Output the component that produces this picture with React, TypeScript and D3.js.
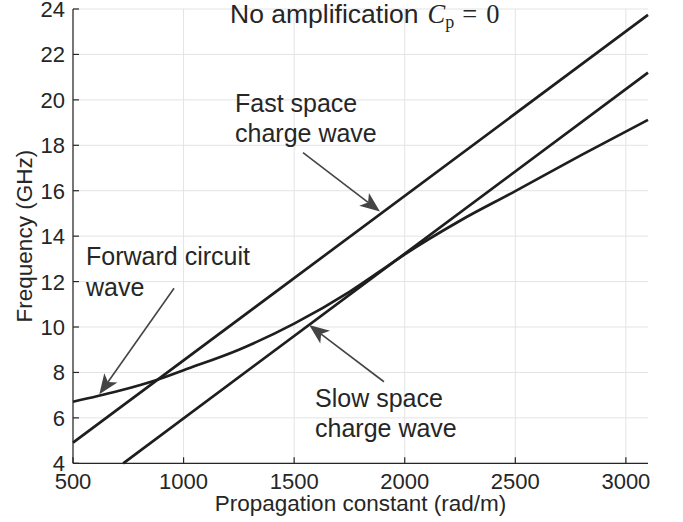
import * as d3 from "d3";

type Pt = [number, number];

// propagation constant (rad/m) vs frequency (GHz)
const betaTicks = [500, 1000, 1500, 2000, 2500, 3000];
const freqTicks = [4, 6, 8, 10, 12, 14, 16, 18, 20, 22, 24];

const fastWave: Pt[] = [
  [500, 4.91],
  [3100, 23.74],
];
const slowWave: Pt[] = [
  [727, 4],
  [3100, 21.2],
];
const circuitWave: Pt[] = [
  [500, 6.71],
  [700, 7.17],
  [878, 7.67],
  [1000, 8.1],
  [1250, 9.0],
  [1500, 10.15],
  [1750, 11.55],
  [1947, 12.85],
  [2000, 13.2],
  [2250, 14.68],
  [2500, 15.98],
  [2800, 17.58],
  [3100, 19.12],
];

const arrows: { from: Pt; to: Pt }[] = [
  { from: [1540, 17.68], to: [1888, 15.08] },
  { from: [957, 11.71], to: [619, 7.04] },
  { from: [1906, 7.59], to: [1568, 10.09] },
];

const W = 683;
const H = 522;
const ink = "#262626";
const font = "'Liberation Sans', Arial, Helvetica, sans-serif";
const serif = "'Liberation Serif', 'DejaVu Serif', serif";

const x = d3.scaleLinear().domain([500, 3100]).range([73, 648]);
const y = d3.scaleLinear().domain([4, 24]).range([463.3, 9]);

const line = d3
  .line<Pt>()
  .x((d) => x(d[0]))
  .y((d) => y(d[1]));
const curve = d3
  .line<Pt>()
  .x((d) => x(d[0]))
  .y((d) => y(d[1]))
  .curve(d3.curveMonotoneX);

function Arrow({ from, to }: { from: Pt; to: Pt }) {
  const x0 = x(from[0]);
  const y0 = y(from[1]);
  const x1 = x(to[0]);
  const y1 = y(to[1]);
  const len = Math.hypot(x1 - x0, y1 - y0);
  const ux = (x1 - x0) / len;
  const uy = (y1 - y0) / len;
  const nx = -uy;
  const ny = ux;
  const L = 20;
  const hw = 8;
  const notch = 15;
  const head = [
    [x1, y1],
    [x1 - L * ux + hw * nx, y1 - L * uy + hw * ny],
    [x1 - notch * ux, y1 - notch * uy],
    [x1 - L * ux - hw * nx, y1 - L * uy - hw * ny],
  ]
    .map((p) => p.join(","))
    .join(" ");
  return (
    <g>
      <line
        x1={x0}
        y1={y0}
        x2={x1 - notch * ux}
        y2={y1 - notch * uy}
        stroke="#444"
        strokeWidth={1.6}
      />
      <polygon points={head} fill="#444" />
    </g>
  );
}

export default function App() {
  const [x0, x1] = x.range();
  const [y0, y1] = y.range();
  return (
    <svg
      width={W}
      height={H}
      style={{ position: "absolute", left: 0, top: 0, background: "#fff" }}
      fontFamily={font}
    >
      {/* grid */}
      <g stroke="#e3e3e3" strokeWidth={1}>
        {betaTicks.map((t) => (
          <line key={"gx" + t} x1={x(t)} x2={x(t)} y1={y0} y2={y1} />
        ))}
        {freqTicks.map((t) => (
          <line key={"gy" + t} x1={x0} x2={x1} y1={y(t)} y2={y(t)} />
        ))}
      </g>

      {/* axes */}
      <g stroke={ink} strokeWidth={1.2}>
        <line x1={x0} x2={x1} y1={y0} y2={y0} />
        <line x1={x0} x2={x0} y1={y0} y2={y1} />
        {betaTicks.map((t) => (
          <line key={"tx" + t} x1={x(t)} x2={x(t)} y1={y0} y2={y0 - 6} />
        ))}
        {freqTicks.map((t) => (
          <line key={"ty" + t} x1={x0} x2={x0 + 6} y1={y(t)} y2={y(t)} />
        ))}
      </g>
      <g fill={ink} fontSize={22}>
        {betaTicks.map((t) => (
          <text key={"lx" + t} x={x(t)} y={489} textAnchor="middle">
            {t}
          </text>
        ))}
        {freqTicks.map((t) => (
          <text key={"ly" + t} x={65} y={y(t) + 8} textAnchor="end">
            {t}
          </text>
        ))}
      </g>
      <text
        x={(x0 + x1) / 2}
        y={511}
        textAnchor="middle"
        fontSize={22.5}
        fill={ink}
      >
        Propagation constant (rad/m)
      </text>
      <text
        transform={`translate(32,${(y0 + y1) / 2}) rotate(-90)`}
        textAnchor="middle"
        fontSize={22.5}
        fill={ink}
      >
        Frequency (GHz)
      </text>

      {/* dispersion curves */}
      <g fill="none" stroke="#1e1e1e" strokeWidth={2.7}>
        <path d={line(fastWave) ?? ""} />
        <path d={line(slowWave) ?? ""} />
        <path d={curve(circuitWave) ?? ""} />
      </g>

      {/* annotations */}
      {arrows.map((a, i) => (
        <Arrow key={i} from={a.from} to={a.to} />
      ))}
      <g fill={ink} fontSize={25}>
        <text x={230} y={23} fontSize={26.5}>
          No amplification
          <tspan fontFamily={serif} fontStyle="italic" dx={9}>
            C
          </tspan>
          <tspan fontFamily={serif} fontSize={18} dy={5}>
            p
          </tspan>
          <tspan fontFamily={serif} dy={-5} dx={8}>
            =
          </tspan>
          <tspan fontFamily={serif} dx={9}>
            0
          </tspan>
        </text>
        <text x={235} y={112}>
          Fast space
        </text>
        <text x={235} y={142}>
          charge wave
        </text>
        <text x={86} y={265}>
          Forward circuit
        </text>
        <text x={86} y={296}>
          wave
        </text>
        <text x={315} y={407}>
          Slow space
        </text>
        <text x={315} y={437}>
          charge wave
        </text>
      </g>
    </svg>
  );
}
